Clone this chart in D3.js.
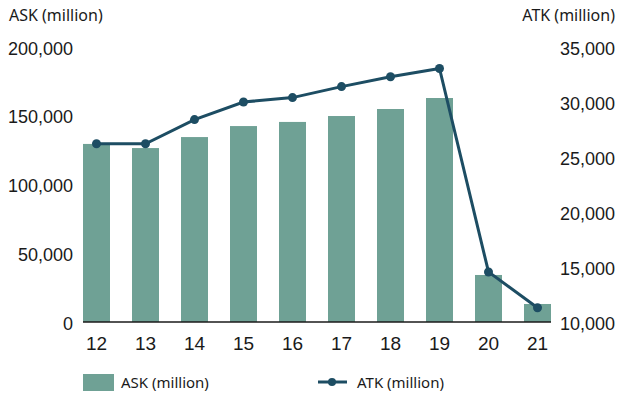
<!DOCTYPE html>
<html>
<head>
<meta charset="utf-8">
<script src="https://cdn.jsdelivr.net/npm/d3@7/dist/d3.min.js"></script>
<style>
  html, body { margin: 0; padding: 0; background: #fff; }
  svg { display: block; font-family: "Noto Sans", "Open Sans", sans-serif; }
</style>
</head>
<body>
<svg id="chart" width="619" height="393"></svg>
<script>
// Years (20xx) on the x axis
const years = ["12", "13", "14", "15", "16", "17", "18", "19", "20", "21"];
// Available seat kilometres, millions (left axis, bars)
const ask = [129500, 126500, 134500, 142500, 145500, 149800, 154900, 162900, 34200, 13100];
// Available tonne kilometres, millions (right axis, line)
const atk = [26200, 26200, 28400, 30000, 30400, 31400, 32300, 33050, 14550, 11300];
// Axis ticks
const askTicks = [0, 50000, 100000, 150000, 200000];
const atkTicks = [10000, 15000, 20000, 25000, 30000, 35000];

const barColor = "#6fa195";
const lineColor = "#1d4d63";
const textColor = "#1a1a1a";

const svg = d3.select("#chart");
const plotLeft = 83, plotRight = 551, plotTop = 47, plotBottom = 322;

const x = d3.scaleBand().domain(years).range([plotLeft, plotRight]).paddingInner(0.449).paddingOuter(0);
const yL = d3.scaleLinear().domain([0, 200000]).range([plotBottom, plotTop]);
const yR = d3.scaleLinear().domain([10000, 35000]).range([plotBottom, plotTop]);
const fmt = d3.format(",");

// Bars
svg.append("g").selectAll("rect").data(years).join("rect")
  .attr("x", d => x(d))
  .attr("width", x.bandwidth())
  .attr("y", (d, i) => yL(ask[i]))
  .attr("height", (d, i) => plotBottom - yL(ask[i]))
  .attr("fill", barColor);

// Left axis
const axL = svg.append("g").attr("transform", `translate(${plotLeft - 10},0)`)
  .call(d3.axisLeft(yL).tickValues(askTicks).tickFormat(fmt).tickSize(0).tickPadding(0));
axL.select(".domain").remove();
axL.selectAll("text").attr("font-size", 18).attr("dy", "0.4em").attr("fill", textColor).attr("font-family", null);

// Right axis
const axR = svg.append("g").attr("transform", `translate(615,0)`)
  .call(d3.axisLeft(yR).tickValues(atkTicks).tickFormat(fmt).tickSize(0).tickPadding(0));
axR.select(".domain").remove();
axR.selectAll("text").attr("font-size", 18).attr("dy", "0.4em").attr("fill", textColor).attr("font-family", null);

// Bottom axis
const axB = svg.append("g").attr("transform", `translate(0,${plotBottom})`)
  .call(d3.axisBottom(x).tickSize(0).tickPadding(15));
axB.select(".domain").attr("stroke", "#1a1a1a").attr("stroke-width", 1.5)
  .attr("d", `M${plotLeft},0H${plotRight}`);
axB.selectAll("text").attr("font-size", 19).attr("fill", textColor).attr("font-family", null);

// Line series
const line = d3.line().x((d, i) => x(years[i]) + x.bandwidth() / 2).y(d => yR(d));
svg.append("path").datum(atk)
  .attr("d", line).attr("fill", "none")
  .attr("stroke", lineColor).attr("stroke-width", 3);
svg.append("g").selectAll("circle").data(atk).join("circle")
  .attr("cx", (d, i) => x(years[i]) + x.bandwidth() / 2)
  .attr("cy", d => yR(d))
  .attr("r", 4.5)
  .attr("fill", lineColor);

// Axis titles
svg.append("text").attr("x", 9).attr("y", 21).attr("font-size", 16).attr("fill", textColor)
  .text("ASK (million)");
svg.append("text").attr("x", 615).attr("y", 21).attr("text-anchor", "end").attr("font-size", 16).attr("fill", textColor)
  .text("ATK (million)");

// Legend
const lg = svg.append("g");
lg.append("rect").attr("x", 83).attr("y", 374).attr("width", 31).attr("height", 17).attr("fill", barColor);
lg.append("text").attr("x", 121).attr("y", 388).attr("font-size", 15).attr("fill", textColor).text("ASK (million)");
lg.append("line").attr("x1", 318).attr("x2", 347).attr("y1", 382).attr("y2", 382)
  .attr("stroke", lineColor).attr("stroke-width", 3);
lg.append("circle").attr("cx", 332).attr("cy", 382).attr("r", 4).attr("fill", lineColor);
lg.append("text").attr("x", 357).attr("y", 388).attr("font-size", 15).attr("fill", textColor).text("ATK (million)");
</script>
</body>
</html>
